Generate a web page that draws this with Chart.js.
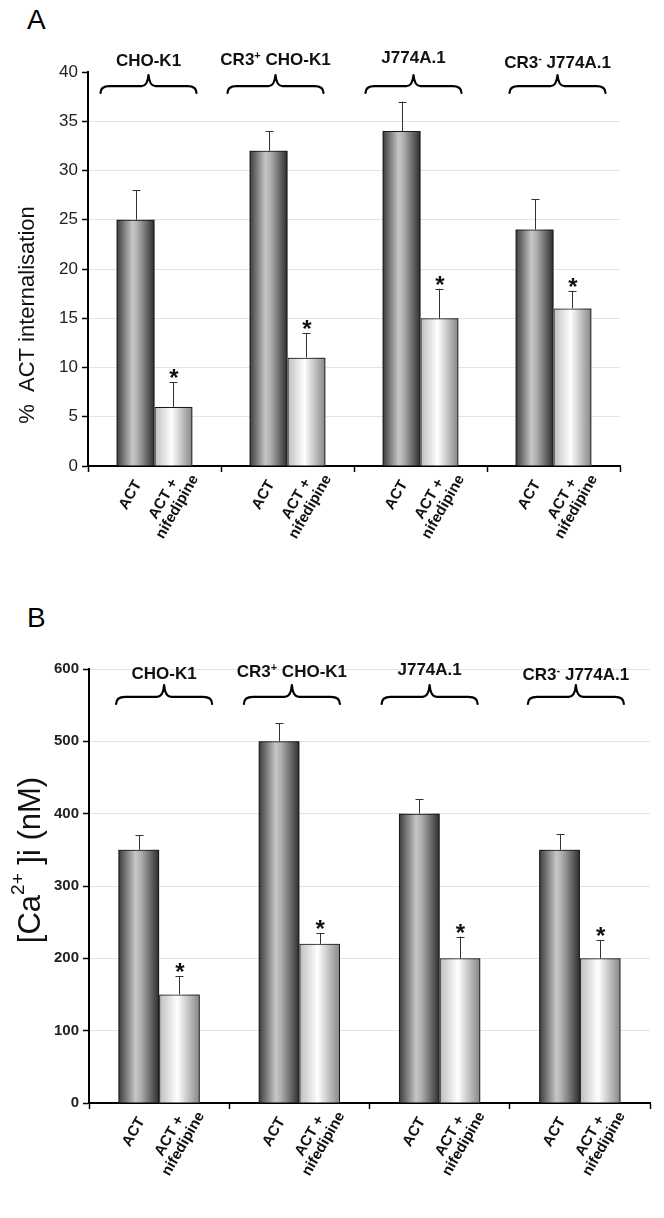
<!DOCTYPE html>
<html><head><meta charset="utf-8">
<script src="https://cdn.jsdelivr.net/npm/chart.js@4/dist/chart.umd.min.js"></script>
<style>
html,body{margin:0;padding:0;background:#fff;}
body{width:664px;height:1218px;position:relative;overflow:hidden;}
.letter{position:absolute;left:27px;font:28px/28px 'Liberation Sans',Arial,sans-serif;color:#000;}
canvas{position:absolute;left:0;}
</style></head><body>
<div class="letter" style="top:6px">A</div>
<div class="letter" style="top:604px">B</div>
<canvas id="chartA" width="664" height="580" style="top:0"></canvas>
<canvas id="chartB" width="664" height="638" style="top:580px"></canvas>
<script>
// ---- data ----
const groups = ['CHO-K1', 'CR3+ CHO-K1', 'J774A.1', 'CR3- J774A.1'];
const groupLabelParts = [
  [['CHO-K1']],
  [['CR3'], ['+', 1], [' CHO-K1']],
  [['J774A.1']],
  [['CR3'], ['-', 1], [' J774A.1']]
];
const barLabels = [['ACT'], ['ACT +', 'nifedipine']];

const internAct = [25, 32, 34, 24];
const internNife = [6, 11, 15, 16];
const internActErr = [3, 2, 3, 3.1];
const internNifeErr = [2.5, 2.5, 3, 1.8];

const calciumAct = [350, 500, 400, 350];
const calciumNife = [150, 220, 200, 200];
const calciumActErr = [20, 25, 20, 22];
const calciumNifeErr = [25, 15, 30, 25];

const internTicks = [0, 5, 10, 15, 20, 25, 30, 35, 40];
const calciumTicks = [0, 100, 200, 300, 400, 500, 600];

const titleA = [['%  ACT internalisation']];
const titleB = [['[Ca'], ['2+', 1], [' ]i (nM)']];

// ---- helpers ----
const FAM = "'Liberation Sans', Arial, sans-serif";
function drawRich(ctx, parts, x, y, size, bold) {
  const w = bold ? 'bold ' : '';
  const big = w + size + 'px ' + FAM, small = w + Math.round(size * 0.62) + 'px ' + FAM;
  let total = 0;
  parts.forEach(p => { ctx.font = p[1] ? small : big; total += ctx.measureText(p[0]).width; });
  let cx = x - total / 2;
  ctx.textAlign = 'left';
  parts.forEach(p => {
    ctx.font = p[1] ? small : big;
    ctx.fillText(p[0], cx, p[1] ? y - size * 0.38 : y);
    cx += ctx.measureText(p[0]).width;
  });
}

const gradientPlugin = {
  id: 'gradfill',
  beforeDatasetsDraw(chart) {
    const ctx = chart.ctx;
    chart.data.datasets.forEach((ds, di) => {
      const stops = ds.grad;
      chart.getDatasetMeta(di).data.forEach(el => {
        const p = el.getProps(['x', 'y', 'width', 'base'], true);
        const left = p.x - p.width / 2;
        const g = ctx.createLinearGradient(left, 0, left + p.width, 0);
        stops.forEach(s => g.addColorStop(s[0], s[1]));
        ctx.fillStyle = g;
        ctx.fillRect(left, p.y, p.width, p.base - p.y);
      });
    });
  }
};

const errorPlugin = {
  id: 'errbars',
  afterDatasetsDraw(chart) {
    const ctx = chart.ctx, ys = chart.scales.y;
    ctx.save();
    chart.data.datasets.forEach((ds, di) => {
      chart.getDatasetMeta(di).data.forEach((el, i) => {
        const top = ys.getPixelForValue(ds.data[i] + ds.err[i]);
        ctx.strokeStyle = '#333'; ctx.lineWidth = 1;
        ctx.beginPath();
        ctx.moveTo(Math.round(el.x) + 0.5, el.y);
        ctx.lineTo(Math.round(el.x) + 0.5, top);
        ctx.moveTo(Math.round(el.x) - 3.5, Math.round(top) + 0.5);
        ctx.lineTo(Math.round(el.x) + 4.5, Math.round(top) + 0.5);
        ctx.stroke();
        if (ds.star) {
          ctx.fillStyle = '#111';
          ctx.font = 'bold 24px ' + FAM;
          ctx.textAlign = 'center'; ctx.textBaseline = 'alphabetic';
          ctx.fillText('*', el.x + 0.5, top + 4);
        }
      });
    });
    ctx.restore();
  }
};

function brace(ctx, cx, yTop, yBot, half) {
  const ym = yTop + 0.62 * (yBot - yTop);
  ctx.beginPath();
  ctx.moveTo(cx - half, yBot);
  ctx.quadraticCurveTo(cx - half, ym, cx - half + 9, ym);
  ctx.lineTo(cx - 7, ym);
  ctx.quadraticCurveTo(cx - 1, ym, cx, yTop);
  ctx.quadraticCurveTo(cx + 1, ym, cx + 7, ym);
  ctx.lineTo(cx + half - 9, ym);
  ctx.quadraticCurveTo(cx + half, ym, cx + half, yBot);
  ctx.stroke();
}

const decorPlugin = {
  id: 'decor',
  afterDraw(chart, args, o) {
    const ctx = chart.ctx, xs = chart.scales.x, ca = chart.chartArea;
    ctx.save();
    ctx.fillStyle = '#111'; ctx.strokeStyle = '#000';
    ctx.lineWidth = 2.2; ctx.lineCap = 'round'; ctx.lineJoin = 'round';
    ctx.textBaseline = 'alphabetic';
    groups.forEach((g, i) => {
      const cx = xs.getPixelForValue(i) + o.shift[i];
      drawRich(ctx, groupLabelParts[i], cx, ca.top + o.labelDy[i], 17, true);
      brace(ctx, cx, ca.top + o.braceTop, ca.top + o.braceBot, 48);
    });
    // rotated bar labels
    ctx.font = 'bold 15px ' + FAM;
    ctx.textAlign = 'center'; ctx.textBaseline = 'middle';
    chart.data.datasets.forEach((ds, di) => {
      const lines = barLabels[di], n = lines.length;
      chart.getDatasetMeta(di).data.forEach(el => {
        ctx.save();
        ctx.translate(el.x - 5 + 2 * (n - 1), ca.bottom + 29 + 8 * (n - 1));
        ctx.rotate(-Math.PI / 3);
        lines.forEach((l, k) => ctx.fillText(l, 0, (k - (n - 1) / 2) * 16));
        ctx.restore();
      });
    });
    // y title
    ctx.save();
    ctx.translate(o.titleX, o.titleY);
    ctx.rotate(-Math.PI / 2);
    ctx.textBaseline = 'middle';
    ctx.fillStyle = '#111';
    drawRich(ctx, o.title, 0, 0, o.titleSize, false);
    ctx.restore();
    ctx.restore();
  }
};

const actGrad = [[0, '#3a3a3a'], [0.42, '#c6c6c6'], [0.55, '#b0b0b0'], [1, '#2c2c2c']];
const nifeGrad = [[0, '#bdbdbd'], [0.45, '#ffffff'], [1, '#858585']];

function makeChart(id, c) {
  return new Chart(document.getElementById(id), {
    type: 'bar',
    data: {
      labels: groups,
      datasets: [
        { label: 'ACT', data: c.act, err: c.actErr, grad: actGrad, star: false,
          backgroundColor: 'rgba(0,0,0,0)', borderColor: '#1a1a1a', borderWidth: 1,
          categoryPercentage: c.cat, barPercentage: 1 },
        { label: 'ACT + nifedipine', data: c.nife, err: c.nifeErr, grad: nifeGrad, star: true,
          backgroundColor: 'rgba(0,0,0,0)', borderColor: '#1a1a1a', borderWidth: 1,
          categoryPercentage: c.cat, barPercentage: 1 }
      ]
    },
    options: {
      responsive: false, animation: false, devicePixelRatio: 1,
      layout: { padding: { left: 0, right: c.padRight, top: c.padTop, bottom: 0 } },
      plugins: {
        legend: { display: false }, tooltip: { enabled: false },
        decor: c.decor
      },
      scales: {
        x: {
          type: 'category', offset: true, z: 1,
          grid: { offset: true, drawOnChartArea: false, drawTicks: true, tickLength: 6, color: '#000', tickColor: '#000', tickWidth: 1.5 },
          border: { display: true, color: '#000', width: 2 },
          ticks: { display: false },
          afterFit: s => { s.height = c.xHeight; }
        },
        y: {
          min: c.ticks[0], max: c.ticks[c.ticks.length - 1],
          afterBuildTicks: s => { s.ticks = c.ticks.map(v => ({ value: v })); },
          ticks: { color: '#222', font: c.tickFont, padding: 4 },
          grid: {
            color: ctx => (ctx.tick && ctx.tick.value === c.hideGrid) ? 'rgba(0,0,0,0)' : '#e3e3e3',
            lineWidth: 1, tickLength: 6, tickColor: '#000', tickWidth: 1.5, drawTicks: true
          },
          border: { display: true, color: '#000', width: 2 },
          afterFit: s => { s.width = c.yWidth; }
        }
      }
    },
    plugins: [gradientPlugin, errorPlugin, decorPlugin]
  });
}

makeChart('chartA', {
  act: internAct, nife: internNife, actErr: internActErr, nifeErr: internNifeErr,
  ticks: internTicks, hideGrid: 40, cat: 0.57,
  padRight: 44, padTop: 72, xHeight: 114, yWidth: 88,
  tickFont: { family: 'Liberation Sans', size: 17 },
  decor: { shift: [-6, -12, -7, 4], labelDy: [-6, -7, -9, -4], braceTop: 3, braceBot: 21,
           title: titleA, titleX: 28, titleY: 315, titleSize: 22 }
});

makeChart('chartB', {
  act: calciumAct, nife: calciumNife, actErr: calciumActErr, nifeErr: calciumNifeErr,
  ticks: calciumTicks, hideGrid: null, cat: 0.58,
  padRight: 14, padTop: 89, xHeight: 115, yWidth: 89,
  tickFont: { family: 'Liberation Sans', size: 15, weight: 'bold' },
  decor: { shift: [5, -7.5, -10, -4], labelDy: [10, 8, 6, 11], braceTop: 16, braceBot: 35,
           title: titleB, titleX: 31, titleY: 280, titleSize: 31 }
});
</script>
</body></html>
